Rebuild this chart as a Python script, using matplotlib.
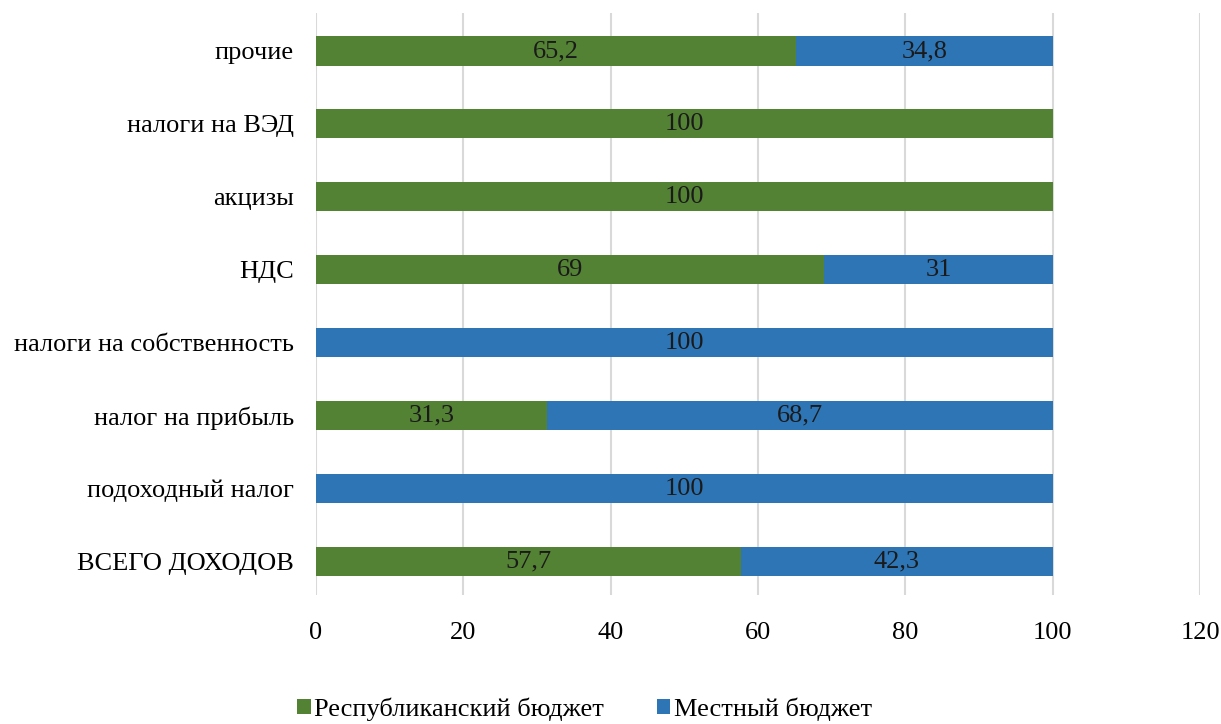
import numpy as np
import matplotlib.pyplot as plt

plt.rcParams['font.family'] = ['Liberation Serif', 'DejaVu Serif']

# Данные
categories = ['ВСЕГО ДОХОДОВ', 'подоходный налог', 'налог на прибыль',
              'налоги на собственность', 'НДС', 'акцизы', 'налоги на ВЭД', 'прочие']
rep_budget = [57.7, 0, 31.3, 0, 69, 100, 100, 65.2]
loc_budget = [42.3, 100, 68.7, 100, 31, 0, 0, 34.8]
x_ticks = [0, 20, 40, 60, 80, 100, 120]

green = '#548235'
blue = '#2E75B6'
fs = 19

fig = plt.figure(figsize=(12.21, 7.24), dpi=100)
ax = fig.add_axes([0.2588, 0.178, 0.724, 0.804])

y = np.arange(len(categories))
h = 0.4
b1 = ax.barh(y, rep_budget, height=h, color=green, label='Республиканский бюджет', zorder=3)
b2 = ax.barh(y, loc_budget, left=rep_budget, height=h, color=blue, label='Местный бюджет', zorder=3)


def fmt(v):
    return ('%g' % v).replace('.', ',')


for bars, vals in ((b1, rep_budget), (b2, loc_budget)):
    labels = [fmt(v) if v > 0 else '' for v in vals]
    ax.bar_label(bars, labels=labels, label_type='center', fontsize=fs, color='#1a1a1a')

ax.set_xlim(0, 120)
ax.set_ylim(-0.46, 7.52)
ax.set_xticks(x_ticks)
ax.set_yticks(y)
ax.set_yticklabels(categories, fontsize=fs)
ax.tick_params(axis='x', labelsize=fs, length=0, pad=19)
ax.tick_params(axis='y', length=0, pad=16)
for s in ax.spines.values():
    s.set_visible(False)
ax.grid(axis='x', color='#d9d9d9', linewidth=1.5, zorder=0)

fig.legend(handles=[b1, b2], loc='center', bbox_to_anchor=(0.479, 0.02), ncol=2,
           frameon=False, fontsize=fs, handlelength=0.5, handleheight=0.5,
           handletextpad=0.15, columnspacing=2.0, borderpad=0.1)

fig.savefig('out.png', dpi=100)
